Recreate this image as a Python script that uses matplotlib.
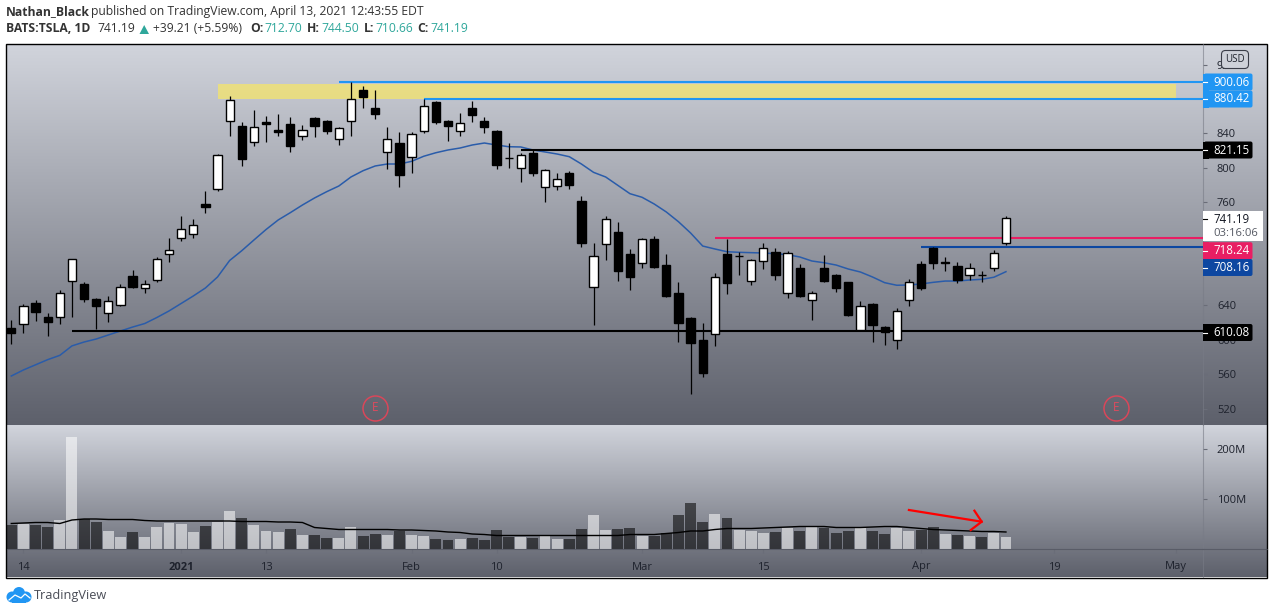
import numpy as np
import matplotlib
matplotlib.use("Agg")
import matplotlib.pyplot as plt
from matplotlib.patches import Rectangle, FancyBboxPatch, Polygon, Circle

plt.rcParams["font.family"] = ["Open Sans", "DejaVu Sans"]

opens = [614,618,643,627,627,668,665,647,631,641,674,660,670,700,718,723,758,776,855,849,830,853,844,851,837,858,854,833,854,891,870,819,829,813,843,877,855,843,870,855,843,811,800,817,778,779,794,762,661,711,725,700,689,717,687,655,625,600,607,700,698,669,692,702,655,684,646,684,675,667,612,642,615,600,646,688,707,691,686,676,676,684,712.7]
highs = [623,642,646,631,658,694,667,649,651,665,681,670,696,718,744,740,773,816,884,853,867,860,863,859,850,859,856,847,900,895,891,848,842,842,880,878,856,864,878,859,844,829,817,821,799,794,796,767,713,744,737,706,718,721,700,667,627,620,678,717,702,694,713,707,703,688,657,699,677,667,645,643,616,637,671,692,708,696,690,689,680,705,744.5]
lows = [595,608,622,604,618,627,644,613,621,639,660,654,667,690,715,718,748,773,837,802,825,830,837,818,832,836,839,827,837,870,857,799,778,794,841,851,831,837,853,841,799,800,784,791,760,774,775,708,617,693,668,658,684,684,650,598,537,557,593,653,675,664,682,670,649,650,623,667,656,628,610,598,594,589,639,658,682,680,666,670,667,680,710.66]
closes = [608,639,632,621,655,694,648,639,645,661,662,665,694,704,729,734,755,815,879,810,848,851,842,825,844,849,843,846,880,882,863,834,792,839,872,853,849,852,862,848,803,811,815,794,797,787,780,713,698,741,680,673,717,685,651,620,596,562,673,666,698,693,707,675,701,651,654,668,660,629,639,617,609,634,667,660,689,689,670,683,676,701,741.19]

price_ma = [558,565,571,577,582,593,597.5,601,605.7,610.3,614.9,619,626,633.6,642.3,651,660.3,673.1,692.3,703.7,716.1,728.3,739.4,747.9,756.8,765,772.3,778.9,789.4,796.7,802.2,804.5,804.5,807.6,813.5,817.6,820.8,823.1,826.6,828.9,826.6,824.6,824.3,820.8,818.5,816.1,813,804.5,794.8,789.4,779.7,770,765.8,758,748.7,737.4,724.3,709.1,705.7,702.5,701.8,701.4,701,700.2,699,696.4,691.7,689.7,687,682.4,678.9,673.1,666.5,663.5,663.8,665,666.9,668.4,668.4,669.6,670.4,672.8,679.3]

volume = [48,51,48,44,58,224,60,54,36,24,34,24,44,52,50,34,46,54,76,62,48,36,34,40,28,28,22,22,44,26,30,28,37,28,26,20,18,20,22,18,38,25,24,22,28,20,20,40,68,38,40,42,27,26,32,68,92,54,70,62,38,36,32,34,42,36,44,42,32,36,42,36,30,42,36,38,44,30,28,26,24,32,24]
volume_light = [0,1,0,0,1,1,0,0,1,1,0,1,1,1,1,1,0,1,1,0,1,1,1,0,1,0,0,1,1,0,0,1,0,1,1,0,0,1,0,0,0,0,1,0,1,1,0,0,1,1,0,0,1,0,0,0,0,0,1,0,1,1,1,0,1,0,1,0,0,0,1,0,0,1,1,0,0,1,0,1,0,1,1]
volume_ma = [51,52,53,53,51,58,60,60,59,59,59,57,56,56,56,56,56,56,56,55,55,55,54,54,53,43,41,39,39,39,39,39,38,38,37,36,34,33,30,29,27,27,27,27,27,27,27,27,27,27,27,29,29,29,31,33,36,36,39,41,41,41,42,43,44,45,45,45,43,43,43,44,45,45,43,41,39,38,37,36,35,35,34]

x_tick_pos = [1,14,21,33,40,52,62,75,86,96]
x_tick_labels = ["14","2021","13","Feb","10","Mar","15","Apr","19","May"]
price_ticks = [520,560,600,640,760,800,840,920]
volume_ticks = [100,200]
volume_tick_labels = ["100M","200M"]

# horizontal drawings: level, first bar, colour
levels = [900.06,880.42,821.15,610.08,718.24,708.16]
level_start = [27,34,42,5,58,75]
level_colors = ["#2196f3","#2196f3","#000000","#000000","#e91e63","#0d47a1"]
earnings_bars = [30,91.1]
zone_low, zone_high = 880.6,897
zone_bars = (17,96)
arrow_bars = [74,80]
arrow_vols = [78,54.6]
arrow_head_bars = [79.4,80,79.1]
arrow_head_vols = [76.6,54.6,38]

# price tags, y is where the tag sits on the scale
tag_text = ["900.06","880.42","821.15","718.24","708.16","610.08"]
tag_y = [82,99,150,250.7,267.5,332.5]
tag_colors = ["#2196f3","#2196f3","#000000","#e91e63","#0d47a1","#000000"]

W,H = 1274,614
PX,STEP = 11.3,12.13
TEXT = "#1e222d"
AXIS = "#787b86"

def rect(l,t,r,b):
    return [l/W,1-b/H,(r-l)/W,(b-t)/H]

fig = plt.figure(figsize=(W/100,H/100),dpi=100,facecolor="white")

# page layer in pixels, gradients behind everything
bg = fig.add_axes([0,0,1,1],zorder=0)
bg.set_xlim(0,W)
bg.set_ylim(H,0)
bg.axis("off")
top_c = np.array([209,212,220])/255
bot_c = np.array([93,96,107])/255
for y0,y1 in [(44,425),(425,577)]:
    t = np.linspace(0,1,256)[:,None,None]
    grad = top_c*(1-t)+bot_c*t
    bg.imshow(grad,extent=(6,1267,y1,y0),aspect="auto",zorder=1)
bg.set_xlim(0,W)
bg.set_ylim(H,0)
bg.add_patch(Rectangle((6,43.5),1261,534,fill=False,ec="black",lw=1,zorder=3))

x = np.arange(len(closes))
opens,highs,lows,closes = map(np.array,(opens,highs,lows,closes))
xlim = ((7-PX)/STEP,(1203-PX)/STEP)

ax = fig.add_axes(rect(7,44,1203,425),zorder=2)
ax.patch.set_alpha(0)
ax.set_xlim(*xlim)
ax.set_ylim(995.2-1.1628*425,995.2-1.1628*44)

ax.fill_between(zone_bars,zone_low,zone_high,color="#f5e56b",alpha=0.75,lw=0,zorder=1)
ax.plot(x,price_ma,color="#2a5caa",lw=1.1,zorder=2)
for lev,st,c in zip(levels,level_start,level_colors):
    ax.hlines(lev,st,xlim[1],color=c,lw=1.5,zorder=3)

up = closes>=opens
ax.vlines(x,lows,highs,color="black",lw=0.9,zorder=4)
ax.bar(x,closes-opens,bottom=opens,width=0.68,color=np.where(up,"white","black"),
       edgecolor="black",linewidth=1,zorder=5)
ax.plot(earnings_bars,[520.8,520.8],ls="none",marker="o",ms=18,mfc="none",mec="#d9475a",mew=1.1,zorder=3)
for b in earnings_bars:
    ax.text(b,520.8,"E",color="#e04a5e",fontsize=8.5,ha="center",va="center",zorder=6)

ax.set_xticks([])
ax.yaxis.tick_right()
ax.set_yticks(price_ticks)
ax.tick_params(axis="y",length=3,width=0.8,color="#6a6d78",labelsize=8,labelcolor=TEXT,pad=7)
for s in ["top","left","bottom"]:
    ax.spines[s].set_visible(False)
ax.spines["right"].set_color(AXIS)
ax.spines["right"].set_linewidth(0.8)
ax.spines["right"].set_alpha(0.6)

ax2 = fig.add_axes(rect(7,425,1203,549),zorder=2)
ax2.patch.set_alpha(0)
ax2.set_xlim(*xlim)
ax2.set_ylim(0,248)
ax2.bar(x,volume,width=0.9,color=["white" if v else "black" for v in volume_light],alpha=0.55,lw=0)
ax2.plot(x,volume_ma,color="black",lw=1)
ax2.plot(arrow_bars,arrow_vols,color="#ff0000",lw=1.6)
ax2.plot(arrow_head_bars,arrow_head_vols,color="#ff0000",lw=1.6)
ax2.set_xticks(x_tick_pos)
ax2.set_xticklabels(x_tick_labels)
ax2.get_xticklabels()[1].set_fontweight("bold")
ax2.yaxis.tick_right()
ax2.set_yticks(volume_ticks)
ax2.set_yticklabels(volume_tick_labels)
ax2.tick_params(axis="y",length=3,width=0.8,color="#6a6d78",labelsize=8,labelcolor=TEXT,pad=7)
ax2.tick_params(axis="x",length=3,width=0.8,color="#6a6d78",labelsize=8,labelcolor=TEXT,pad=6)
for s in ["top","left"]:
    ax2.spines[s].set_visible(False)
ax2.spines["bottom"].set_color("#50535e")
ax2.spines["bottom"].set_linewidth(0.8)
ax2.spines["bottom"].set_alpha(0.7)
ax2.spines["right"].set_color(AXIS)
ax2.spines["right"].set_linewidth(0.8)
ax2.spines["right"].set_alpha(0.6)

# top layer, same pixel system as bg
over = fig.add_axes([0,0,1,1],zorder=5)
over.set_xlim(0,W)
over.set_ylim(H,0)
over.axis("off")
over.plot([1203,1203],[549,577],color=AXIS,lw=0.8,alpha=0.6)
over.plot([1203,1267],[549,549],color="#50535e",lw=0.8,alpha=0.7)

for txt,yc,c in zip(tag_text,tag_y,tag_colors):
    over.add_patch(FancyBboxPatch((1205,yc-7.5),46.5,15,boxstyle="round,pad=1,rounding_size=2",fc=c,ec="none"))
    over.add_patch(Rectangle((1203,yc-8.5),6,17,fc=c,ec="none"))
    over.plot([1203,1207],[yc,yc],color="white",lw=0.8)
    over.text(1213,yc,txt,color="white",fontsize=8.3,va="center",ha="left")

over.add_patch(Rectangle((1203,211),60,30,fc="white",ec="none"))
over.plot([1203,1207],[219,219],color="black",lw=0.8)
over.text(1213,219.5,"741.19",color="#131722",fontsize=8.3,va="center")
over.text(1213,234,"03:16:06",color="#555963",fontsize=8.1,va="center")

over.add_patch(FancyBboxPatch((1223,52),24,15,boxstyle="round,pad=1.5,rounding_size=4",
                              fc="#ced1d9",ec="#3a3d48",lw=0.8))
over.text(1235,59.5,"USD",color=TEXT,fontsize=7,ha="center",va="center")

# header
DARK = "#333333"
TEAL = "#2fa79b"
hdr = 8.75
over.text(6,11.5,"Nathan_Black",color=DARK,fontsize=hdr,fontweight="bold",va="center")
over.text(91,11.5,"published on TradingView.com, April 13, 2021 12:43:55 EDT",color=DARK,fontsize=hdr,va="center")
parts = [(6,"BATS:TSLA, 1D",DARK,"bold"),(97,"741.19",DARK,"normal"),(153,"+39.21 (+5.59%)",DARK,"normal"),
         (250,"O:",DARK,"bold"),(264,"712.70",TEAL,"normal"),(307,"H:",DARK,"bold"),(321,"744.50",TEAL,"normal"),
         (364,"L:",DARK,"bold"),(375,"710.66",TEAL,"normal"),(417,"C:",DARK,"bold"),(430,"741.19",TEAL,"normal")]
for px,s,c,w in parts:
    over.text(px,29,s,color=c,fontsize=hdr,fontweight=w,va="center")
over.add_patch(Polygon([(139.5,34),(149,34),(144.2,25)],fc=TEAL,ec="none"))

# TradingView mark
cloud = "#2196f3"
for cx,cy,r in [(12,597,5.5),(19,593,6),(26,597,5.5)]:
    over.add_patch(Circle((cx,cy),r,fc=cloud,ec="none"))
over.add_patch(Rectangle((12,597),14,5.5,fc=cloud,ec="none"))
over.plot([9,15,21,25,30],[600,595,598,594,598],color="white",lw=0.9)
over.text(34,596,"TradingView",color="#4a4d57",fontsize=9.2,va="center")

fig.savefig("out.png",dpi=100)
